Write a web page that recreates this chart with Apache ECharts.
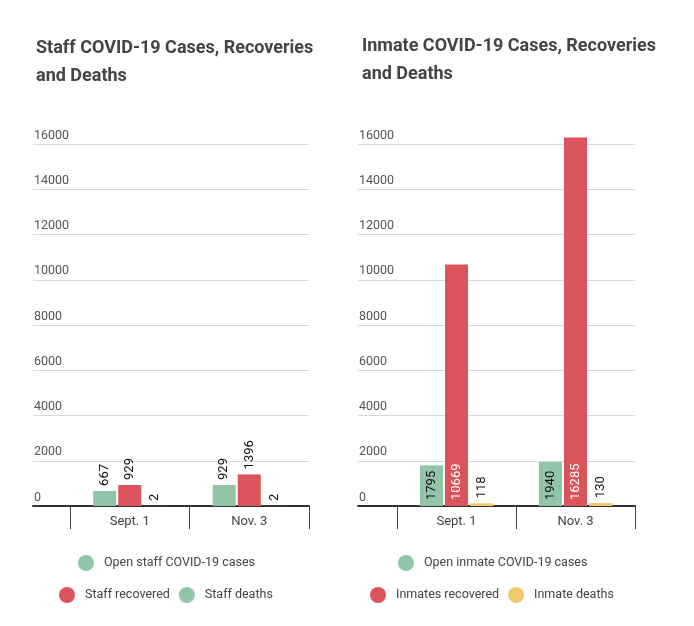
<!DOCTYPE html>
<html lang="en">
<head>
    <meta charset="utf-8">
    <title>COVID-19 Cases, Recoveries and Deaths</title>
    <script src="https://cdn.jsdelivr.net/npm/echarts@6/dist/echarts.min.js"></script>
    <style type="text/css">
        html, body {
            margin: 0;
            padding: 0;
            background: #fff;
        }
        #main {
            width: 694px;
            height: 626px;
        }
    </style>
</head>
<body>
<div id="main"></div>

<script type="text/javascript">
    // data
    var categories = ['Sept. 1', 'Nov. 3'];
    var yTicks = [0, 2000, 4000, 6000, 8000, 10000, 12000, 14000, 16000];

    var staffOpen = [667, 929];
    var staffRecovered = [929, 1396];
    var staffDeaths = [2, 2];

    var inmateOpen = [1795, 1940];
    var inmateRecovered = [10669, 16285];
    var inmateDeaths = [118, 130];

    var GREEN = '#92c4a7', RED = '#dc545b', YELLOW = '#f0c96a';
    var FONT = 'Roboto, "Noto Sans", sans-serif';

    var yMax = yTicks[yTicks.length - 1];
    var plotBottom = 506, plotHeight = 362;
    // bars get a taller hidden axis so the 16285 bar can rise past the top gridline
    var barMax = 17000;
    var barHeight = plotHeight * barMax / yMax;

    var myChart = echarts.init(document.getElementById('main'));

    // label above the bar, rotated
    function topLabel() {
        return {
            show: true, position: 'top', rotate: 90, align: 'left', verticalAlign: 'middle',
            distance: 5, color: '#111', fontSize: 13, fontFamily: FONT
        };
    }
    // label inside the bar, at its base
    function baseLabel(col) {
        return {
            show: true, position: 'insideBottom', rotate: 90, align: 'left', verticalAlign: 'middle',
            distance: 6, color: col, fontSize: 13, fontFamily: FONT
        };
    }

    function bar(name, data, color, xi, label) {
        return {
            name: name, type: 'bar', data: data,
            xAxisIndex: xi, yAxisIndex: xi,
            barWidth: 23, barGap: '9%',
            itemStyle: {color: color},
            label: label
        };
    }

    // two grids per chart: a wide one for gridlines / axis line, a narrow one for the bars
    var grids = [
        {left: 33, right: 385, top: plotBottom - plotHeight, height: plotHeight},
        {left: 70, right: 385, top: plotBottom - barHeight, height: barHeight},
        {left: 358, right: 59, top: plotBottom - plotHeight, height: plotHeight},
        {left: 397, right: 59, top: plotBottom - barHeight, height: barHeight}
    ];

    var xAxes = [], yAxes = [];
    for (var i = 0; i < 4; i++) {
        var wide = (i % 2 === 0);
        xAxes.push({
            type: 'category', gridIndex: i,
            data: wide ? [''] : categories,
            axisLine: {show: wide, lineStyle: {color: '#333', width: 2}},
            axisTick: {show: !wide, length: 23, lineStyle: {color: '#444', width: 1}},
            axisLabel: {show: !wide, color: '#444', fontSize: 13, fontFamily: FONT, margin: 9}
        });
        yAxes.push({
            type: 'value', gridIndex: i, min: 0, max: wide ? yMax : barMax, interval: 2000,
            show: wide,
            axisLine: {show: false},
            axisTick: {show: false},
            splitLine: {show: wide, lineStyle: {color: '#d9d9d9', width: 1}},
            axisLabel: {
                inside: true, margin: 0, align: 'left', verticalAlign: 'bottom',
                padding: [0, 0, 2, 1], color: '#555', fontSize: 12.5, fontFamily: FONT,
                formatter: function (v) { return String(v); }
            }
        });
    }

    var titleStyle = {color: '#444', fontSize: 18, fontWeight: 'bold', fontFamily: FONT, lineHeight: 28};
    var legendText = {color: '#444', fontSize: 12.5, fontFamily: FONT, padding: [0, 0, 0, 5]};

    function legend(names, left, top) {
        return {
            data: names, left: left, top: top, icon: 'circle', itemWidth: 16, itemHeight: 16,
            itemGap: 9, textStyle: legendText, selectedMode: false, padding: 0
        };
    }

    var option = {
        animation: false,
        title: [
            {text: 'Staff COVID-19 Cases, Recoveries\nand Deaths', left: 36, top: 34, textStyle: titleStyle, padding: 0},
            {text: 'Inmate COVID-19 Cases, Recoveries\nand Deaths', left: 362, top: 32, textStyle: titleStyle, padding: 0}
        ],
        legend: [
            legend(['Open staff COVID-19 cases'], 78, 555),
            legend(['Staff recovered', 'Staff deaths'], 59, 587),
            legend(['Open inmate COVID-19 cases'], 398, 555),
            legend(['Inmates recovered', 'Inmate deaths'], 370, 587)
        ],
        grid: grids,
        xAxis: xAxes,
        yAxis: yAxes,
        series: [
            bar('Open staff COVID-19 cases', staffOpen, GREEN, 1, topLabel()),
            bar('Staff recovered', staffRecovered, RED, 1, topLabel()),
            bar('Staff deaths', staffDeaths, GREEN, 1, topLabel()),
            bar('Open inmate COVID-19 cases', inmateOpen, GREEN, 3, baseLabel('#111')),
            bar('Inmates recovered', inmateRecovered, RED, 3, baseLabel('#fff')),
            bar('Inmate deaths', inmateDeaths, YELLOW, 3, topLabel())
        ]
    };
    myChart.setOption(option);
</script>
</body>
</html>
